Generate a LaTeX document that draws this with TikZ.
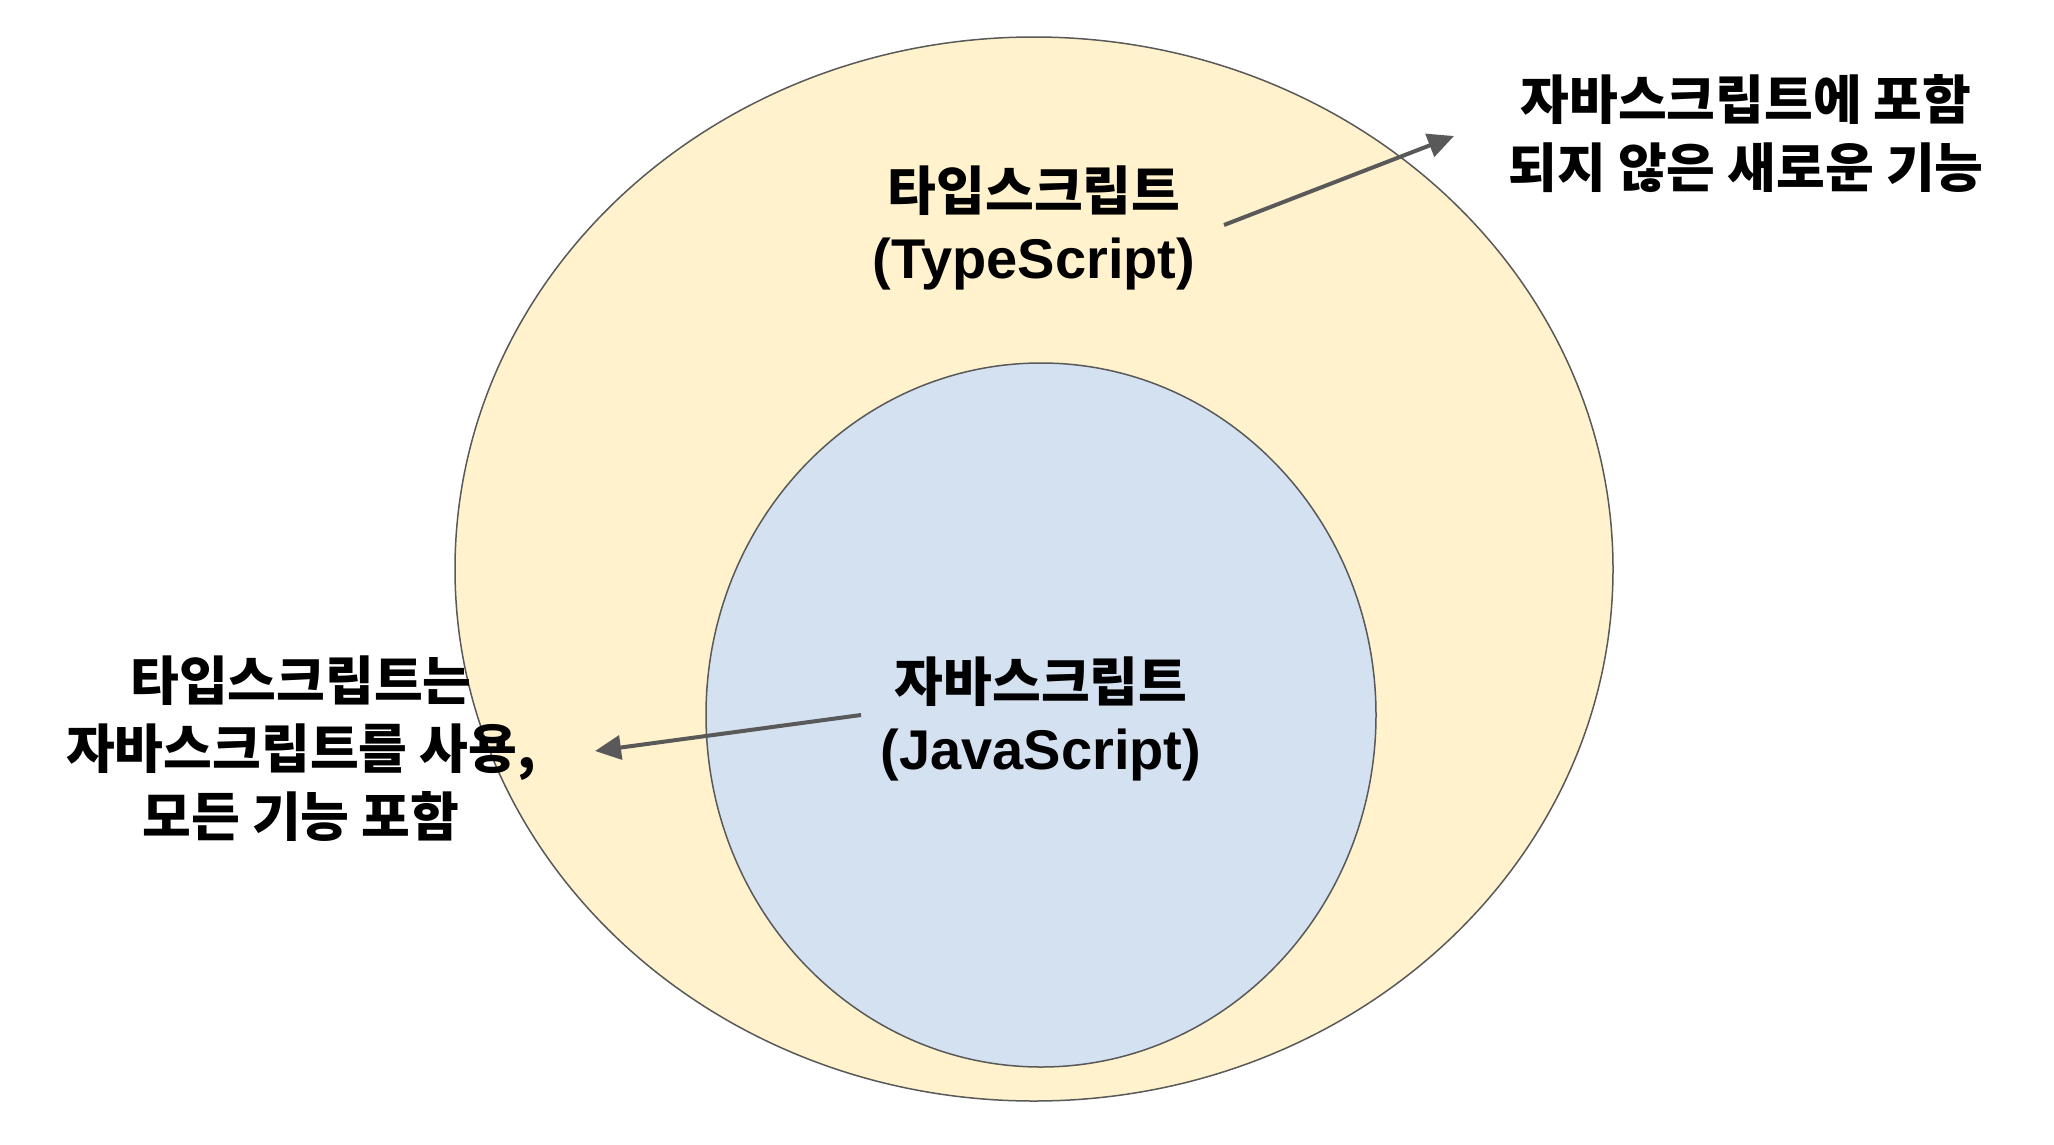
\documentclass[tikz,border=0pt]{standalone}
\usepackage{fontspec}
\usetikzlibrary{arrows.meta}
\newfontfamily\kr{Noto Sans CJK KR}
\newfontfamily\lat{Liberation Sans}
\definecolor{tsfill}{HTML}{FFF2CC}
\definecolor{jsfill}{HTML}{D4E1F1}
\definecolor{edge}{HTML}{595959}
\tikzset{
  setshape/.style={draw=edge, line width=1.5pt},
  lbl/.style={align=center, inner sep=0pt, text=black, font=\fontsize{53}{68}\selectfont\bfseries},
  pointer/.style={draw=edge, line width=4pt, -{Triangle[length=26pt,width=24pt]}}
}
\begin{document}
\begin{tikzpicture}[x=1pt,y=-1pt]
\useasboundingbox (0,0) rectangle (2054,1144);
\fill[white] (0,0) rectangle (2054,1144);
\draw[setshape, fill=tsfill] (1034,569) ellipse [x radius=579, y radius=532];
\draw[setshape, fill=jsfill] (1041,715) ellipse [x radius=335, y radius=352];
\node[lbl] (ts) at (1034,228) {{\kr\bfseries 타입스크립트}\\{\lat\bfseries\fontsize{56}{68}\selectfont (TypeScript)}};
\node[lbl] (js) at (1041,719) {{\kr\bfseries 자바스크립트}\\{\lat\bfseries\fontsize{56}{68}\selectfont (JavaScript)}};
\node[lbl] (tr) at (1746,134) {{\kr\bfseries 자바스크립트에 포함}\\{\kr\bfseries 되지 않은 새로운 기능}};
\node[lbl] (lf) at (301,749) {{\kr\bfseries 타입스크립트는}\\{\kr\bfseries 자바스크립트를 사용,}\\{\kr\bfseries 모든 기능 포함}};
\coordinate (a1s) at (1224,225);
\coordinate (a1e) at (1454,136);
\coordinate (a2s) at (861,715);
\coordinate (a2e) at (595,751);
\draw[pointer] (a1s) -- (a1e);
\draw[pointer] (a2s) -- (a2e);
\end{tikzpicture}
\end{document}
